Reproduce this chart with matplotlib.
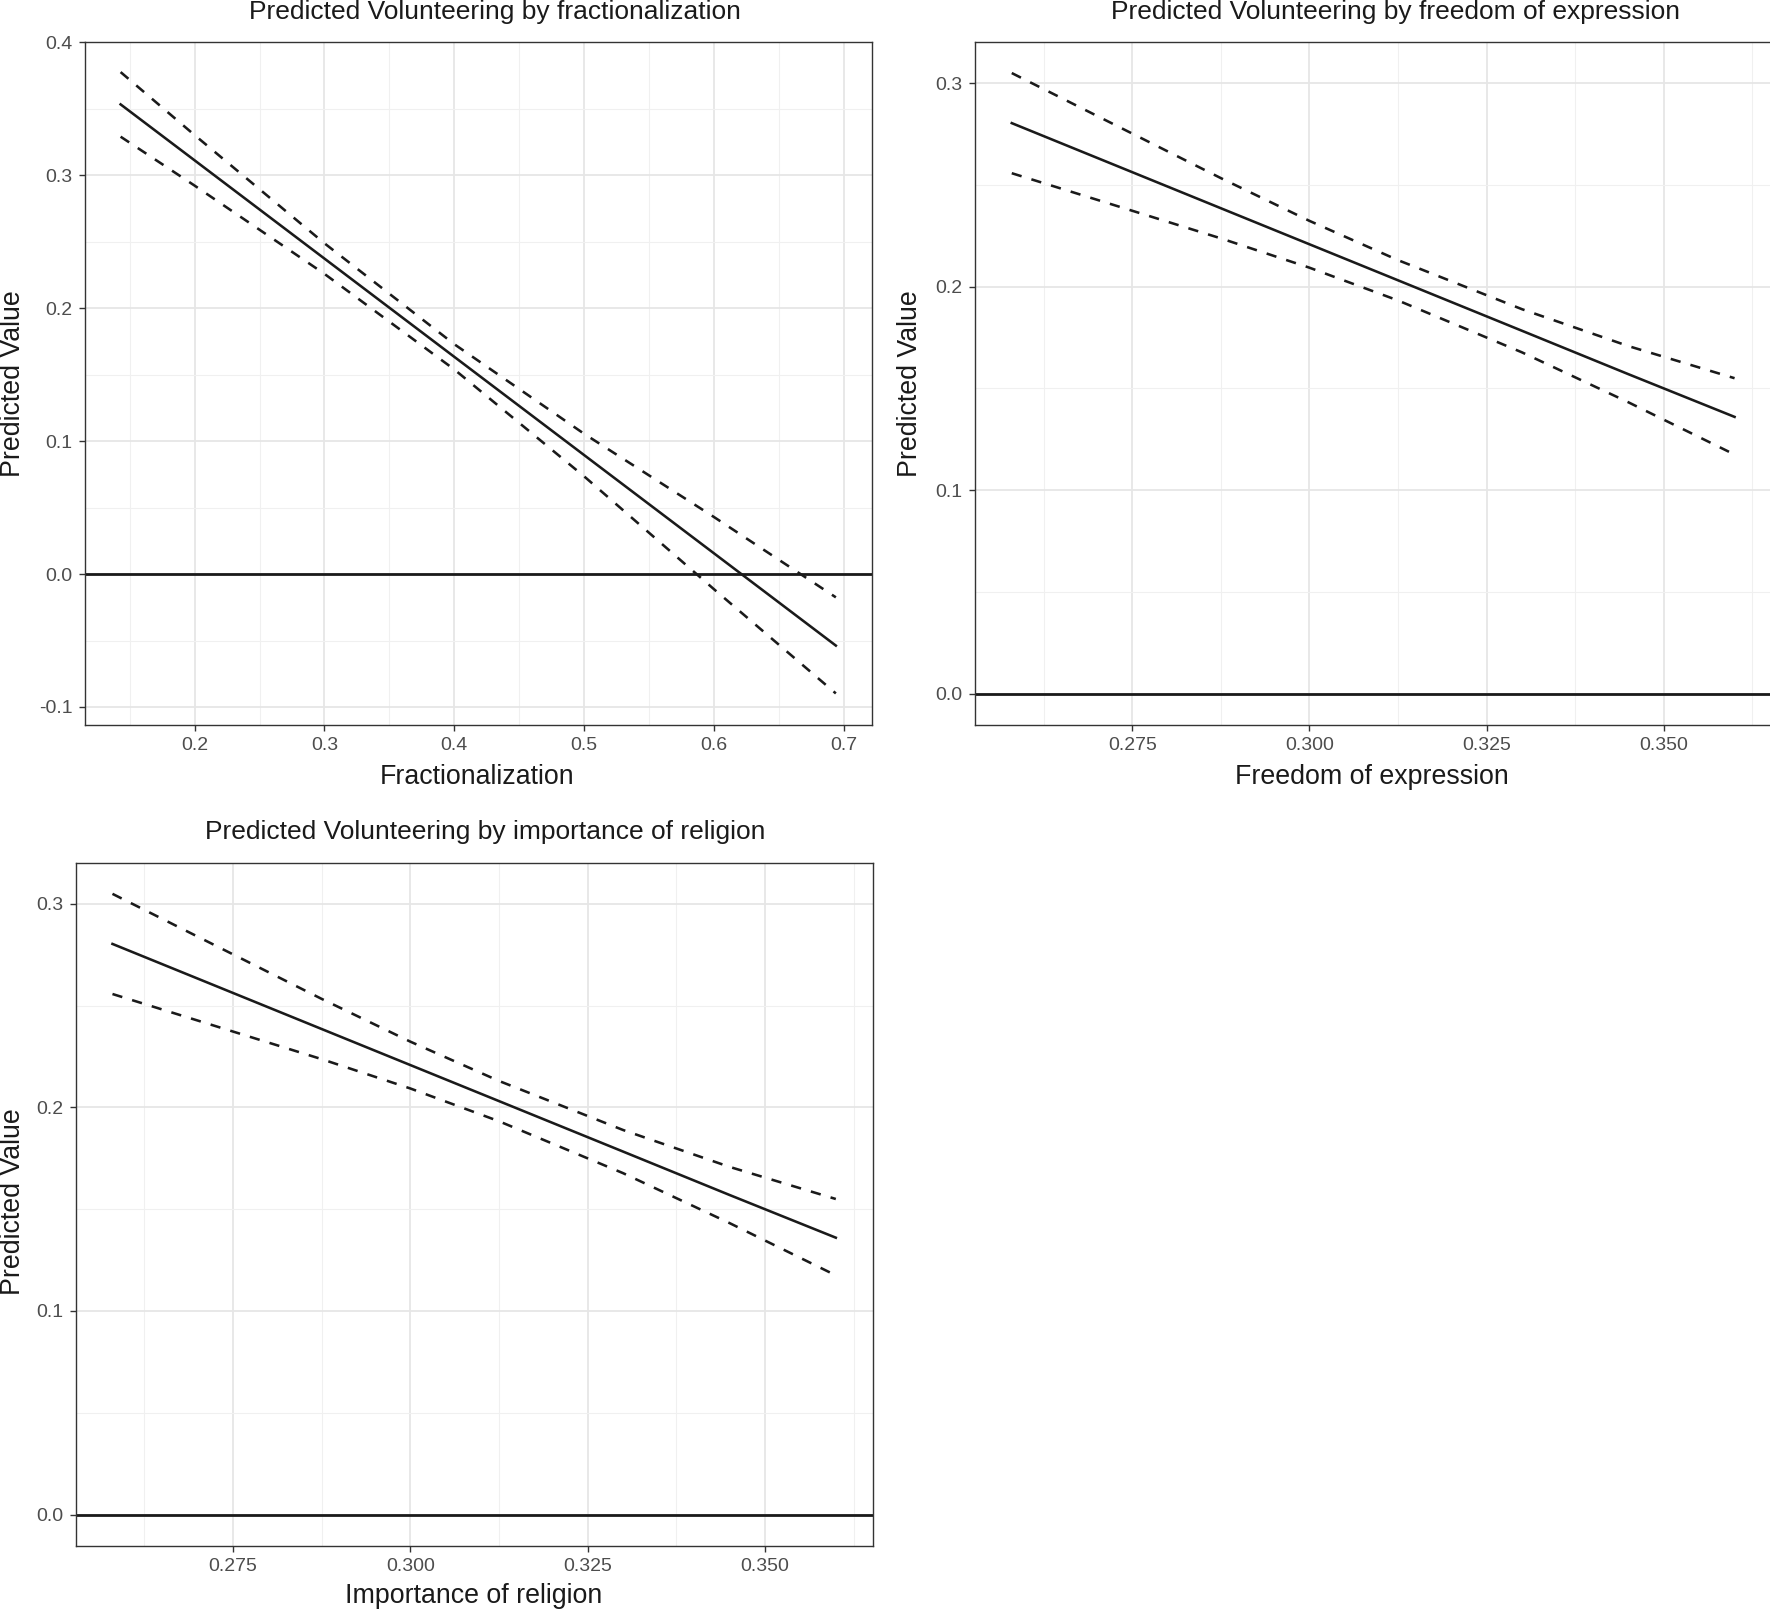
import numpy as np
import matplotlib
matplotlib.use('Agg')
import matplotlib.pyplot as plt
from matplotlib.ticker import MultipleLocator

plt.rcParams['font.family'] = ['Liberation Sans', 'DejaVu Sans']

# 数据：预测值与置信区间
frac_x = [0.143, 0.2, 0.3, 0.4, 0.5, 0.6, 0.694]
frac_fit = [0.3534, 0.3113, 0.2374, 0.1635, 0.0896, 0.0157, -0.0538]
frac_upper = [0.3777, 0.3303, 0.2489, 0.1730, 0.1056, 0.0430, -0.0175]
frac_lower = [0.3291, 0.2923, 0.2259, 0.1540, 0.0736, -0.0113, -0.0898]

free_x = [0.258, 0.2875, 0.300, 0.3125, 0.330, 0.345, 0.360]
free_fit = [0.2803, 0.2385, 0.2208, 0.2031, 0.1783, 0.1570, 0.1360]
free_upper = [0.3049, 0.2533, 0.2323, 0.2130, 0.1889, 0.1708, 0.1550]
free_lower = [0.2557, 0.2237, 0.2093, 0.1932, 0.1677, 0.1432, 0.1175]

relig_x = [0.258, 0.2875, 0.300, 0.3125, 0.330, 0.345, 0.360]
relig_fit = [0.2803, 0.2385, 0.2208, 0.2031, 0.1783, 0.1570, 0.1360]
relig_upper = [0.3049, 0.2533, 0.2323, 0.2130, 0.1889, 0.1708, 0.1550]
relig_lower = [0.2557, 0.2237, 0.2093, 0.1932, 0.1677, 0.1432, 0.1175]

W, H = 1770, 1613
fig = plt.figure(figsize=(W / 100, H / 100), dpi=100)

line_col = '#1a1a1a'
grid_col = '#e6e6e6'


def panel(rect, x, fit, upper, lower, xlim, ylim, xmaj, xmin, ymaj, ymin, xfmt):
    ax = fig.add_axes(rect)
    ax.set_xlim(*xlim)
    ax.set_ylim(*ylim)
    ax.xaxis.set_major_locator(MultipleLocator(xmaj))
    ax.xaxis.set_minor_locator(MultipleLocator(xmin))
    ax.yaxis.set_major_locator(MultipleLocator(ymaj))
    ax.yaxis.set_minor_locator(MultipleLocator(ymin))
    ax.xaxis.set_major_formatter(plt.FuncFormatter(lambda v, p: xfmt % v))
    ax.yaxis.set_major_formatter(plt.FuncFormatter(lambda v, p: '%.1f' % v))
    ax.grid(which='major', color=grid_col, lw=1.3, zorder=0)
    ax.grid(which='minor', color='#f0f0f0', lw=0.8, zorder=0)
    ax.set_axisbelow(True)
    ax.tick_params(which='major', length=4, width=1.0, color='#333333',
                   labelsize=14, labelcolor='#4d4d4d', pad=5)
    ax.tick_params(which='minor', length=0)
    for s in ax.spines.values():
        s.set_color('#333333')
        s.set_linewidth(1.0)
    ax.axhline(0, color=line_col, lw=2.0, zorder=2)
    ax.plot(x, fit, color=line_col, lw=1.85, zorder=3)
    ax.plot(x, upper, color=line_col, lw=1.85, ls=(0, (4, 4)), zorder=3)
    ax.plot(x, lower, color=line_col, lw=1.85, ls=(0, (4, 4)), zorder=3)
    return ax


ax1 = panel([0.0479, 0.55065, 0.44458, 0.42344], frac_x, frac_fit, frac_upper, frac_lower,
            (0.1154, 0.7216), (-0.1134, 0.4005), 0.1, 0.05, 0.1, 0.05, '%.1f')
ax2 = panel([0.5508, 0.55065, 0.4492, 0.42344], free_x, free_fit, free_upper, free_lower,
            (0.2528, 0.3650), (-0.01525, 0.32025), 0.025, 0.0125, 0.1, 0.05, '%.3f')
ax2.spines['right'].set_visible(False)
ax3 = panel([0.04271, 0.04179, 0.45034, 0.42343], relig_x, relig_fit, relig_upper, relig_lower,
            (0.2528, 0.3652), (-0.01525, 0.32025), 0.025, 0.0125, 0.1, 0.05, '%.3f')

tfs = 19
lfs = 19.3
fig.text(0.2794, 0.9923, 'Predicted Volunteering by fractionalization', ha='center', va='center', fontsize=tfs, color='#1a1a1a')
fig.text(0.7884, 0.9923, 'Predicted Volunteering by freedom of expression', ha='center', va='center', fontsize=tfs, color='#1a1a1a')
fig.text(0.2743, 0.4842, 'Predicted Volunteering by importance of religion', ha='center', va='center', fontsize=tfs, color='#1a1a1a')

fig.text(0.2698, 0.5184, 'Fractionalization', ha='center', va='center', fontsize=lfs, color='#1a1a1a')
fig.text(0.7753, 0.5184, 'Freedom of expression', ha='center', va='center', fontsize=lfs, color='#1a1a1a')
fig.text(0.2676, 0.0103, 'Importance of religion', ha='center', va='center', fontsize=lfs, color='#1a1a1a')

fig.text(0.0076, 0.762, 'Predicted Value', rotation=90, ha='center', va='center', fontsize=lfs, color='#1a1a1a')
fig.text(0.5141, 0.762, 'Predicted Value', rotation=90, ha='center', va='center', fontsize=lfs, color='#1a1a1a')
fig.text(0.0076, 0.2548, 'Predicted Value', rotation=90, ha='center', va='center', fontsize=lfs, color='#1a1a1a')

fig.savefig('out.png', dpi=100, facecolor='white')
